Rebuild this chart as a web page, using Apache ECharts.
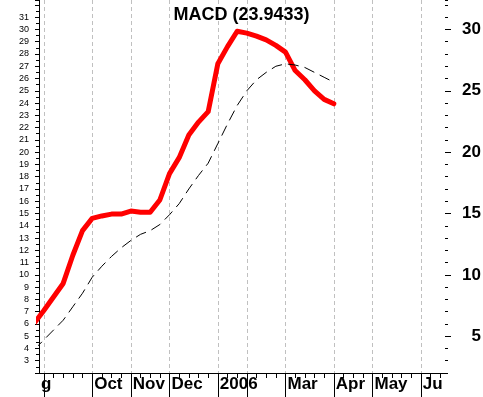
<!DOCTYPE html>
<html>
<head>
<meta charset="utf-8">
<script src="https://cdn.jsdelivr.net/npm/echarts@6/dist/echarts.min.js"></script>
<style>
html,body{margin:0;padding:0;background:#fff;}
#chart{width:483px;height:397px;}
</style>
</head>
<body>
<div id="chart"></div>
<script>
// week index (0 = first visible weekly tick), -1 is partly off-chart to the left
const weeks = [-1,0,1,2,3,4,5,6,7,8,9,10,11,12,13,14,15,16,17,18,19,20,21,22,23,24,25,26,27,28,29,30];
const macd = [6.05,7.1,8.2,9.3,11.6,13.6,14.6,14.8,14.95,14.95,15.2,15.1,15.1,16.1,18.25,19.55,21.4,22.45,23.3,27.2,28.6,29.85,29.7,29.45,29.15,28.7,28.15,26.65,25.9,25.0,24.3,23.94];
const signal = [3.9,4.7,5.5,6.3,7.4,8.5,9.8,10.7,11.5,12.2,12.8,13.3,13.6,14.1,14.9,15.8,17.0,18.1,19.1,20.7,22.3,23.8,25.0,25.9,26.5,27.0,27.2,27.1,26.9,26.5,26.1,25.7];
const weekTicks = [0,1,2,3,4,5,6,7,8,9,10,11,12,13,14,15,16,17,18,19,20,21,22,23,24,25,26,27,28,29,30,31,32,33,34,35,36,37,38,39,40,41];
const monthStarts = [0,5,9,13,18,21,25,30,34,39];
const monthLabelPos = [-0.5,5,9,13,18,25,30,34,39];
const monthLabelText = ['g','Oct','Nov','Dec','2006','Mar','Apr','May','Jun'];
const leftLabels = [3,4,5,6,7,8,9,10,11,12,13,14,15,16,17,18,19,20,21,22,23,24,25,26,27,28,29,30,31];
const rightLabels = [5,10,15,20,25,30];
const titleText = 'MACD (23.9433)';

const FONT = 'Liberation Sans, Arial, Helvetica, sans-serif';
const Y_MIN = 2, Y_MAX = 32.4, X_MIN = -0.5, X_MAX = 41.5;

function monthName(v) {
  const i = monthLabelPos.indexOf(v);
  return i >= 0 ? monthLabelText[i] : '';
}
const labelFont = {fontFamily: FONT, fontSize: 17, fontWeight: 'bold', color: '#000'};

const chart = echarts.init(document.getElementById('chart'), null, {renderer:'canvas'});
const option = {
  animation: false,
  backgroundColor: '#fff',
  title: {
    text: titleText, left: 'center', top: 1,
    textStyle: {fontFamily: FONT, fontSize: 18, fontWeight: 'bold', color: '#000'}
  },
  grid: {left: 39, right: 38, top: 0, bottom: 24, containLabel: false, outerBoundsMode: 'none'},
  xAxis: [
    {
      type: 'value', position: 'bottom', min: X_MIN, max: X_MAX,
      axisLine: {show: true, onZero: false, lineStyle: {color: '#000', width: 1}},
      axisTick: {show: true, customValues: weekTicks, length: 5, lineStyle: {color: '#000', width: 1}},
      axisLabel: {show: false},
      splitLine: {show: false}
    },
    {
      type: 'value', position: 'bottom', min: X_MIN, max: X_MAX,
      axisLine: {show: false, onZero: false},
      axisTick: {show: true, customValues: monthStarts, length: 25, lineStyle: {color: '#000', width: 1}},
      axisLabel: Object.assign({
        show: true, customValues: monthLabelPos.slice(0, -1), align: 'left', margin: 3,
        padding: [0,0,0,2], formatter: monthName
      }, labelFont),
      splitLine: {show: true, lineStyle: {color: '#c0c0c0', width: 1, type: [4,3]}}
    },
    {
      type: 'value', position: 'bottom', min: X_MIN, max: X_MAX,
      axisLine: {show: false, onZero: false},
      axisTick: {show: false},
      axisLabel: Object.assign({
        show: true, customValues: monthLabelPos.slice(-1), align: 'left', margin: 3,
        padding: [0,0,0,2], formatter: monthName,
        width: 24, overflow: 'truncate', ellipsis: ''
      }, labelFont),
      splitLine: {show: false}
    }
  ],
  yAxis: [
    {
      type: 'value', position: 'left', min: Y_MIN, max: Y_MAX, interval: 1,
      axisLine: {show: true, onZero: false, lineStyle: {color: '#000', width: 1}},
      axisTick: {show: true, length: 4, lineStyle: {color: '#000'}},
      minorTick: {show: true, splitNumber: 2, length: 3, lineStyle: {color: '#000'}},
      axisLabel: {show: true, customValues: leftLabels, margin: 10, fontFamily: FONT, fontSize: 9, color: '#000'},
      splitLine: {show: false}
    },
    {
      type: 'value', position: 'right', min: Y_MIN, max: Y_MAX, interval: 1,
      axisLine: {show: false, onZero: false},
      axisTick: {show: true, length: 3, lineStyle: {color: '#000'}},
      axisLabel: {show: false},
      splitLine: {show: false}
    },
    {
      type: 'value', position: 'right', min: Y_MIN, max: Y_MAX,
      axisLine: {show: false, onZero: false},
      axisTick: {show: true, customValues: rightLabels, length: 6, lineStyle: {color: '#000'}},
      axisLabel: Object.assign({show: true, customValues: rightLabels, align: 'right', margin: 36}, labelFont),
      splitLine: {show: false}
    }
  ],
  series: [
    {
      name: 'MACD', type: 'line', xAxisIndex: 0, yAxisIndex: 0,
      data: weeks.map((w, i) => [w, macd[i]]),
      showSymbol: false, symbol: 'none', clip: true,
      lineStyle: {color: '#ff0000', width: 5, join: 'round', cap: 'round'},
      z: 3
    },
    {
      name: 'Signal', type: 'line', xAxisIndex: 0, yAxisIndex: 0,
      data: weeks.map((w, i) => [w, signal[i]]),
      showSymbol: false, symbol: 'none', clip: true,
      lineStyle: {color: '#000', width: 1, type: [11,6]},
      z: 4
    }
  ]
};
chart.setOption(option);
</script>
</body>
</html>
